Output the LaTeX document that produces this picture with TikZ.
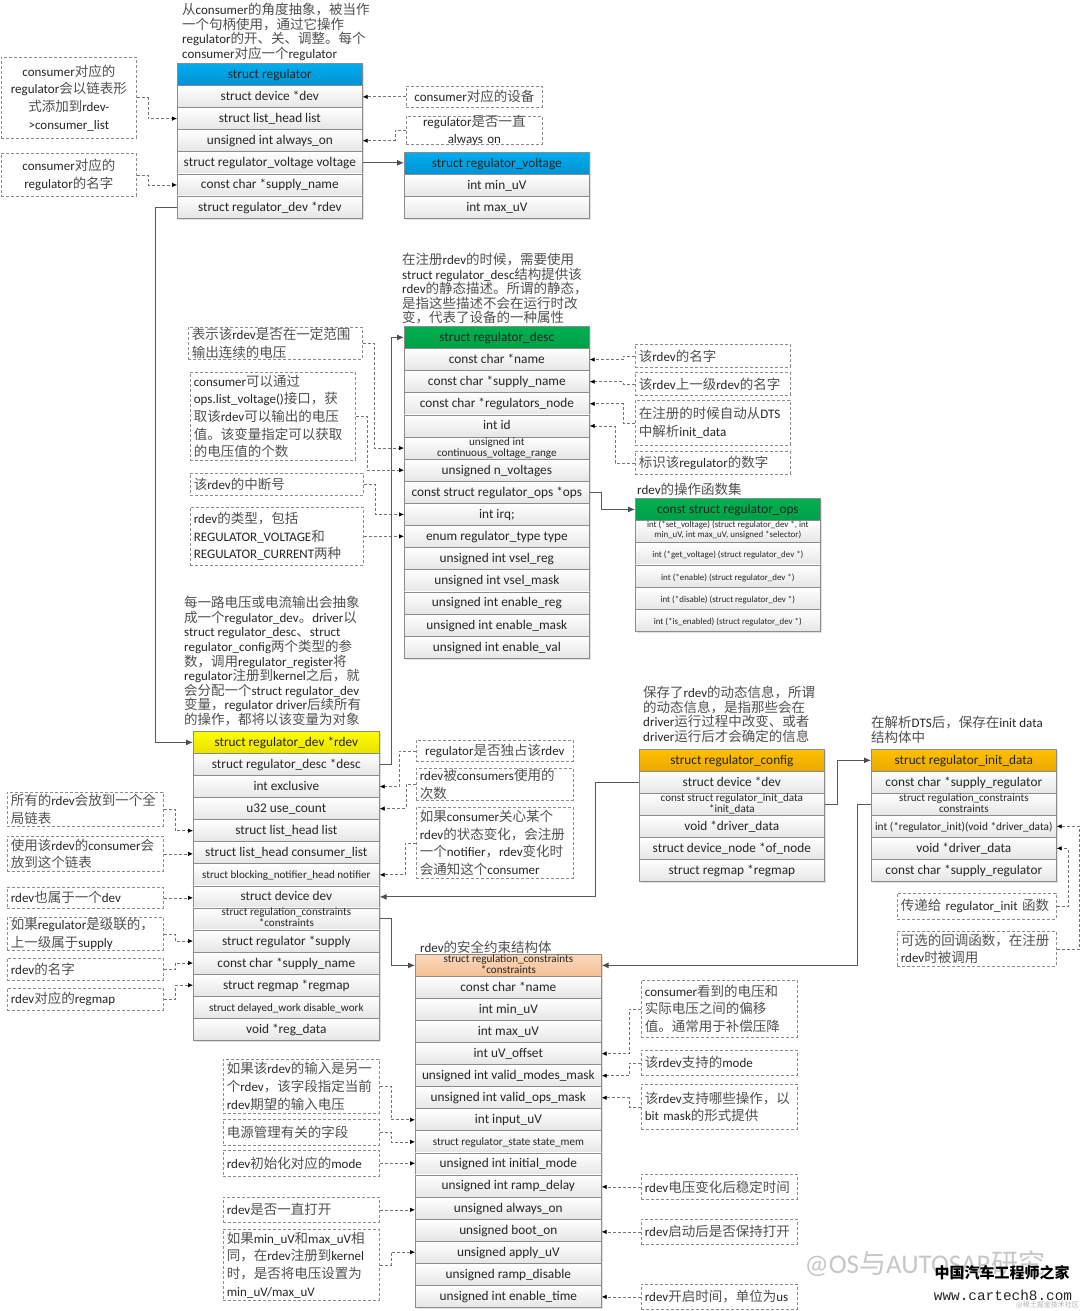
\documentclass[tikz,border=0pt]{standalone}
\usepackage{fontspec}
\setmainfont{Carlito}
\newfontfamily\cjkfont{Noto Sans CJK SC}
\newfontfamily\monofam{Liberation Mono}
\usetikzlibrary{arrows.meta,calc}
\definecolor{inkc}{HTML}{262626}
\definecolor{zhc}{HTML}{505050}
\definecolor{bluet}{HTML}{00AEEF}\definecolor{blueb}{HTML}{0092D2}
\definecolor{greent}{HTML}{00B050}\definecolor{greenb}{HTML}{00A048}
\definecolor{yelt}{HTML}{FFFF00}\definecolor{yelb}{HTML}{E8E000}
\definecolor{orat}{HTML}{FFC000}\definecolor{orab}{HTML}{E8A800}
\definecolor{peat}{HTML}{FBD9BC}\definecolor{peab}{HTML}{F3BE92}
\newcommand{\zh}[1]{{\cjkfont\fontsize{\dimexpr\zhsize pt}{0pt}\selectfont\color{zhc}#1}}
\newcommand{\zhsize}{13.5}
\newcommand{\smf}{\fontsize{11.1}{12}\selectfont}
\newcommand{\tnf}{\fontsize{8.9}{10}\selectfont}
\newcommand{\twol}[2]{\raisebox{-4pt}{\smf #1}\\[-3pt]\raisebox{-4pt}{\smf #2}}
\newcommand{\twot}[2]{\raisebox{-2pt}{\tnf #1}\\[-4pt]\raisebox{-2pt}{\tnf #2}}
\tikzset{
 cell/.style={draw=black!45,line width=.7pt,top color=white,bottom color=black!10,inner sep=0pt,anchor=north west,align=center,text=inkc,font=\fontsize{13.3}{14}\selectfont},
 hblue/.style={cell,top color=bluet,bottom color=blueb},
 hgreen/.style={cell,top color=greent,bottom color=greenb},
 hyellow/.style={cell,top color=yelt,bottom color=yelb},
 horange/.style={cell,top color=orat,bottom color=orab},
 hpeach/.style={cell,top color=peat,bottom color=peab},
 noteb/.style={draw=black!45,dashed,dash pattern=on 3pt off 2pt,line width=.7pt,inner sep=0pt,anchor=north west},
 notet/.style={inner sep=0pt,text=inkc,font=\fontsize{13}{17.6}\selectfont},
 titlet/.style={inner sep=0pt,anchor=north west,align=left,text=inkc,font=\fontsize{13}{14.6}\selectfont},
 dlink/.style={draw=black!55,dash pattern=on 3pt off 2pt,line width=.7pt,-{Latex[length=5pt,width=4.5pt,black]}},
 slink/.style={draw=black!65,line width=1pt,-{Latex[length=7pt,width=6pt,black!70]}},
}
% name, x, y, width, rowheight, header style, rows
\newcommand{\structbox}[7]{%
 \foreach \t [count=\i from 0] in {#7}{%
  \pgfmathsetmacro\yy{#3+\i*#5}%
  \ifnum\i=0 \def\st{#6}\else\def\st{cell}\fi
  \fill[black!12] ($(#2,\yy)+(2,2)$) rectangle +(#4,#5);
  \node[\st,minimum width=#4pt,minimum height=#5pt,text height=9pt,text depth=1pt] (#1-\i) at (#2,\yy) {\t};
 }}
% name, x1,y1,x2,y2, align, text
\newcommand{\notebox}[7]{%
 \pgfmathsetmacro\ww{#4-#2}\pgfmathsetmacro\hh{#5-#3}\pgfmathsetmacro\tw{#4-#2-7}%
 \node[noteb,minimum width=\ww pt,minimum height=\hh pt] (#1) at (#2,#3) {};
 \node[notet,text width=\tw pt,align=#6] (#1-t) at (#1.center) {#7};
}
\begin{document}
\begin{tikzpicture}[x=1pt,y=-1pt]
\useasboundingbox (0,0) rectangle (1080,1311);
\fill[white] (0,0) rectangle (1080,1311);

% watermark behind
\node[inner sep=0pt,text=black!22,font=\fontsize{27}{27}\selectfont] (wm) at (925,1264) {@OS\cjkfont 与\rmfamily AUTOSAR\cjkfont 研究};

% titles
\node[titlet] (t1) at (182,3) {\zh{从}consumer\zh{的角度抽象，被当作}\\\zh{一个句柄使用，通过它操作}\\regulator\zh{的开、关、调整。每个}\\consumer\zh{对应一个}regulator};
\node[titlet] (t2) at (402,253) {\zh{在注册}rdev\zh{的时候，需要使用}\\struct regulator\_desc\zh{结构提供该}\\rdev\zh{的静态描述。所谓的静态，}\\\zh{是指这些描述不会在运行时改}\\\zh{变，代表了设备的一种属性}};
\node[titlet] (t3) at (637,483) {rdev\zh{的操作函数集}};
\node[titlet] (t4) at (184,596) {\zh{每一路电压或电流输出会抽象}\\\zh{成一个}regulator\_dev\zh{。}driver\zh{以}\\struct regulator\_desc\zh{、}struct\\regulator\_config\zh{两个类型的参}\\\zh{数，调用}regulator\_register\zh{将}\\regulator\zh{注册到}kernel\zh{之后，就}\\\zh{会分配一个}struct regulator\_dev\\\zh{变量，}regulator driver\zh{后续所有}\\\zh{的操作，都将以该变量为对象}};
\node[titlet] (t5) at (643,686) {\zh{保存了}rdev\zh{的动态信息，所谓}\\\zh{的动态信息，是指那些会在}\\driver\zh{运行过程中改变、或者}\\driver\zh{运行后才会确定的信息}};
\node[titlet] (t6) at (871,716) {\zh{在解析}DTS\zh{后，保存在}init data\\\zh{结构体中}};
\node[titlet] (t7) at (420,941) {rdev\zh{的安全约束结构体}};

% structs
\structbox{reg}{177}{63}{185}{22.1}{hblue}{struct regulator,struct device *dev,struct list\_head list,unsigned int always\_on,struct regulator\_voltage voltage,const char *supply\_name,struct regulator\_dev *rdev}
\structbox{vol}{404}{152}{185}{22.1}{hblue}{struct regulator\_voltage,int min\_uV,int max\_uV}
\structbox{des}{404}{326}{185}{22.13}{hgreen}{struct regulator\_desc,const char *name,const char *supply\_name,const char *regulators\_node,int id,{\twol{unsigned int}{continuous\_voltage\_range}},unsigned n\_voltages,const struct regulator\_ops *ops,int irq;,enum regulator\_type type,unsigned int vsel\_reg,unsigned int vsel\_mask,unsigned int enable\_reg,unsigned int enable\_mask,unsigned int enable\_val}
\structbox{ops}{635}{498}{185}{22.2}{hgreen}{const struct regulator\_ops,{\twot{int (*set\_voltage) (struct regulator\_dev *, int}{min\_uV, int max\_uV,  unsigned *selector)}},{\tnf int (*get\_voltage) (struct regulator\_dev *)},{\tnf int (*enable) (struct regulator\_dev *)},{\tnf int (*disable) (struct regulator\_dev *)},{\tnf int (*is\_enabled) (struct regulator\_dev *)}}
\structbox{dev}{193}{731}{186}{22.07}{hyellow}{struct regulator\_dev *rdev,struct regulator\_desc *desc,int exclusive,u32 use\_count,struct list\_head list,struct list\_head consumer\_list,{\smf struct blocking\_notifier\_head notifier},struct device dev,{\twol{struct regulation\_constraints}{*constraints}},struct regulator *supply,const char *supply\_name,struct regmap *regmap,{\smf struct delayed\_work disable\_work},void *reg\_data}
\structbox{cfg}{639}{749}{185}{22}{horange}{struct regulator\_config,struct device *dev,{\twol{const struct regulator\_init\_data}{*init\_data}},void *driver\_data,struct device\_node *of\_node,struct regmap *regmap}
\structbox{ini}{871}{749}{185}{22}{horange}{struct regulator\_init\_data,const char *supply\_regulator,{\twol{struct regulation\_constraints}{constraints}},{\fontsize{11.3}{12}\selectfont int (*regulator\_init)(void *driver\_data)},void *driver\_data,const char *supply\_regulator}
\structbox{con}{415}{954}{186}{22.06}{hpeach}{{\twol{struct regulation\_constraints}{*constraints}},const char *name,int min\_uV,int max\_uV,int uV\_offset,unsigned int valid\_modes\_mask,unsigned int valid\_ops\_mask,int input\_uV,{\smf struct regulator\_state state\_mem},unsigned int initial\_mode,unsigned int ramp\_delay,unsigned always\_on,unsigned boot\_on,unsigned apply\_uV,unsigned ramp\_disable,unsigned int enable\_time}

% notes: regulator
\notebox{nA}{1}{57}{136}{138}{center}{consumer\zh{对应的}\\regulator\zh{会以链表形}\\\zh{式添加到}rdev-\\>consumer\_list}
\notebox{nB}{1}{153}{136}{196}{center}{consumer\zh{对应的}\\regulator\zh{的名字}}
\notebox{nC}{406}{86}{542}{107}{center}{consumer\zh{对应的设备}}
\notebox{nD}{406}{116}{542}{144}{center}{regulator\zh{是否一直}\\always on}
% notes: desc
\notebox{nE}{188}{327}{362}{359}{left}{\zh{表示该}rdev\zh{是否在一定范围}\\\zh{输出连续的电压}}
\notebox{nF}{190}{372}{355}{460}{left}{consumer\zh{可以通过}\\ops.list\_voltage()\zh{接口，获}\\\zh{取该}rdev\zh{可以输出的电压}\\\zh{值。该变量指定可以获取}\\\zh{的电压值的个数}}
\notebox{nG}{190}{473}{363}{495}{left}{\zh{该}rdev\zh{的中断号}}
\notebox{nH}{190}{507}{363}{565}{left}{rdev\zh{的类型，包括}\\REGULATOR\_VOLTAGE\zh{和}\\REGULATOR\_CURRENT\zh{两种}}
\notebox{nI}{635}{344}{790}{367}{left}{\zh{该}rdev\zh{的名字}}
\notebox{nJ}{635}{372}{790}{395}{left}{\zh{该}rdev\zh{上一级}rdev\zh{的名字}}
\notebox{nK}{635}{400}{790}{445}{left}{\zh{在注册的时候自动从}DTS\\\zh{中解析}init\_data}
\notebox{nL}{635}{451}{790}{474}{left}{\zh{标识该}regulator\zh{的数字}}
% notes: dev
\notebox{nM}{7}{792}{163}{826}{left}{\zh{所有的}rdev\zh{会放到一个全}\\\zh{局链表}}
\notebox{nN}{7}{836}{163}{871}{left}{\zh{使用该}rdev\zh{的}consumer\zh{会}\\\zh{放到这个链表}}
\notebox{nO}{7}{887}{163}{908}{left}{rdev\zh{也属于一个}dev}
\notebox{nP}{7}{917}{163}{950}{left}{\zh{如果}regulator\zh{是级联的，}\\\zh{上一级属于}supply}
\notebox{nQ}{7}{958}{163}{980}{left}{rdev\zh{的名字}}
\notebox{nR}{7}{988}{163}{1010}{left}{rdev\zh{对应的}regmap}
\notebox{nS}{416}{740}{573}{761}{center}{regulator\zh{是否独占该}rdev}
\notebox{nT}{416}{768}{573}{800}{left}{rdev\zh{被}consumers\zh{使用的}\\\zh{次数}}
\notebox{nU}{416}{807}{573}{878}{left}{\zh{如果}consumer\zh{关心某个}\\rdev\zh{的状态变化，会注册}\\\zh{一个}notifier\zh{，}rdev\zh{变化时}\\\zh{会通知这个}consumer}
% notes: constraints
\notebox{nV}{223}{1059}{379}{1113}{left}{\zh{如果该}rdev\zh{的输入是另一}\\\zh{个}rdev\zh{，该字段指定当前}\\rdev\zh{期望的输入电压}}
\notebox{nW}{223}{1119}{379}{1145}{left}{\zh{电源管理有关的字段}}
\notebox{nX}{223}{1150}{379}{1176}{left}{rdev\zh{初始化对应的}mode}
\notebox{nY}{223}{1197}{379}{1222}{left}{rdev\zh{是否一直打开}}
\notebox{nZ}{223}{1229}{379}{1300}{left}{\zh{如果}min\_uV\zh{和}max\_uV\zh{相}\\\zh{同，在}rdev\zh{注册到}kernel\\\zh{时，是否将电压设置为}\\min\_uV/max\_uV}
\notebox{oA}{641}{980}{797}{1037}{left}{consumer\zh{看到的电压和}\\\zh{实际电压之间的偏移}\\\zh{值。通常用于补偿压降}}
\notebox{oB}{641}{1050}{797}{1075}{left}{\zh{该}rdev\zh{支持的}mode}
\notebox{oC}{641}{1084}{797}{1129}{left}{\zh{该}rdev\zh{支持哪些操作，以}\\bit mask\zh{的形式提供}}
\notebox{oD}{641}{1174}{797}{1199}{left}{rdev\zh{电压变化后稳定时间}}
\notebox{oE}{641}{1219}{797}{1244}{left}{rdev\zh{启动后是否保持打开}}
\notebox{oF}{641}{1284}{797}{1309}{left}{rdev\zh{开启时间，单位为}us}
\notebox{oG}{897}{893}{1056}{919}{left}{\zh{传递给} regulator\_init \zh{函数}}
\notebox{oH}{897}{931}{1056}{966}{left}{\zh{可选的回调函数，在注册}\\rdev\zh{时被调用}}

% dashed connectors
\coordinate (xA) at (148,0);
\draw[dlink] (nA.east) -- (nA.east -| xA) |- (reg-2.west);
\draw[dlink] (nB.east) -- (nB.east -| xA) |- (reg-5.west);
\draw[dlink] (nC.west) -- (nC.west -| reg-1.east);
\coordinate (xD) at (395,0);
\draw[dlink] (nD.west) -- (nD.west -| xD) |- (reg-3.east);

\coordinate (xE) at (374,0); \coordinate (xF) at (367,0); \coordinate (xG) at (375,0);
\draw[dlink] (nE.east) -- (nE.east -| xE) |- (des-5.west);
\draw[dlink] (nF.east) -- (nF.east -| xF) |- (des-6.west);
\draw[dlink] (nG.east) -- (nG.east -| xG) |- (des-8.west);
\draw[dlink] (nH.east) -- (nH.east -| des-9.west);
\coordinate (xI) at (623,0); \coordinate (xL) at (615,0);
\draw[dlink] (nI.west) -- (nI.west -| xI) |- (des-1.east);
\draw[dlink] (nJ.west) -- (nJ.west -| xI) |- (des-2.east);
\draw[dlink] (nK.west) -- (nK.west -| xI) |- (des-3.east);
\draw[dlink] (nL.west) -- (nL.west -| xL) |- (des-4.east);

\coordinate (xM) at (175,0);
\draw[dlink] (nM.east) -- (nM.east -| xM) |- (dev-4.west);
\draw[dlink] (nN.east) -- (nN.east -| dev-5.west);
\draw[dlink] (nO.east) -- (nO.east -| dev-7.west);
\draw[dlink] (nP.east) -- (nP.east -| xM) |- (dev-9.west);
\draw[dlink] (nQ.east) -- (nQ.east -| xM) |- (dev-10.west);
\draw[dlink] (nR.east) -- (nR.east -| xM) |- (dev-11.west);
\coordinate (xS) at (399,0); \coordinate (xT) at (406,0); \coordinate (xU) at (405,0);
\draw[dlink] (nS.west) -- (nS.west -| xS) |- (dev-2.east);
\draw[dlink] (nT.west) -- (nT.west -| xT) |- (dev-3.east);
\draw[dlink] (nU.west) -- (nU.west -| xU) |- (dev-6.east);

\coordinate (xV) at (391,0);
\draw[dlink] (nV.east) -- (nV.east -| xV) |- (con-7.west);
\draw[dlink] (nW.east) -- (nW.east -| xV) |- (con-8.west);
\draw[dlink] (nX.east) -- (nX.east -| con-9.west);
\draw[dlink] (nY.east) -- (nY.east -| con-11.west);
\draw[dlink] (nZ.east) -- (nZ.east -| xV) |- (con-13.west);
\coordinate (xO) at (629,0);
\draw[dlink] (oA.west) -- (oA.west -| xO) |- (con-4.east);
\draw[dlink] (oB.west) -- (oB.west -| xO) |- (con-5.east);
\draw[dlink] (oC.west) -- (oC.west -| xO) |- (con-6.east);
\draw[dlink] (oD.west) -- (oD.west -| con-10.east);
\draw[dlink] (oE.west) -- (oE.west -| con-12.east);
\draw[dlink] (oF.west) -- (oF.west -| con-15.east);
\coordinate (xG2) at (1068,0); \coordinate (xH2) at (1079.5,0);
\draw[dlink] (oG.east) -- (oG.east -| xG2) |- (ini-4.east);
\draw[dlink] (oH.east) -- (oH.east -| xH2) |- (ini-3.east);

% solid connectors
\draw[slink] (reg-4.east) -- (reg-4.east -| vol-0.west);
\coordinate (xr) at (155,0);
\draw[slink] (reg-6.west) -- (reg-6.west -| xr) |- (dev-0.west);
\draw[slink] (dev-1.east) -- (dev-1.east -| xV) |- (des-0.west);
\coordinate (xo) at (601,0);
\draw[slink] (des-7.east) -- (des-7.east -| xo) |- (ops-0.west);
\draw[slink] (dev-8.east) -- (dev-8.east -| xV) |- (con-0.west);
\coordinate (xc) at (595,0);
\draw[slink] (cfg-1.west) -- (cfg-1.west -| xc) |- (dev-7.east);
\coordinate (xi) at (837,0);
\draw[slink] (cfg-2.east) -- (cfg-2.east -| xi) |- (ini-0.west);
\coordinate (xj) at (857,0);
\draw[slink] (ini-2.west) -- (ini-2.west -| xj) |- (con-0.east);

% watermark front
\node[inner sep=0pt,text=black,font=\cjkfont\bfseries\fontsize{15}{15}\selectfont] (w1) at (1002,1273) {中国汽车工程师之家};
\node[inner sep=0pt,text=black!85,font=\monofam\fontsize{14.4}{15}\selectfont] (w2) at (1003,1295) {www.cartech8.com};
\node[inner sep=0pt,text=black!30,font=\cjkfont\fontsize{7}{8}\selectfont,anchor=east] (w3) at (1079,1305.5) {@稀土掘金技术社区};
\end{tikzpicture}
\end{document}
